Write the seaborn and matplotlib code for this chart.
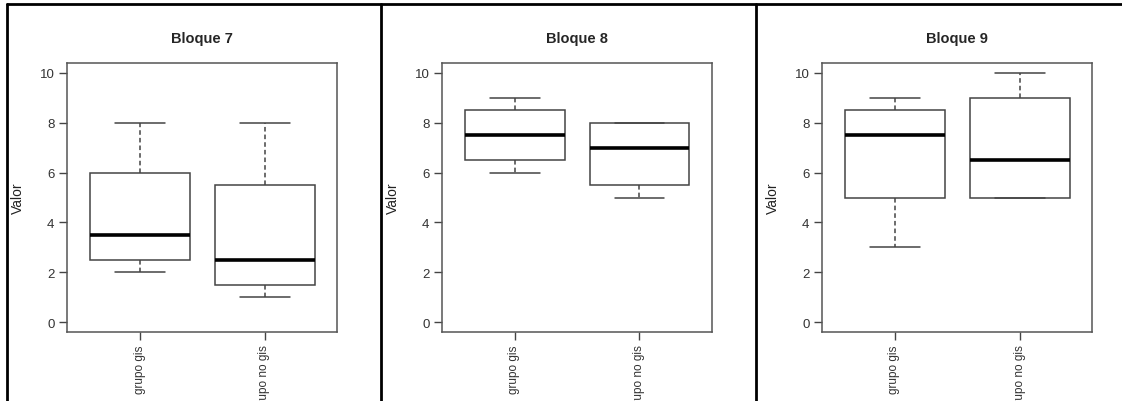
import pandas as pd
import matplotlib.pyplot as plt
from matplotlib.lines import Line2D
import seaborn as sns

# Five-number summaries (min, q1, median, q3, max)
bloques = ['Bloque 7', 'Bloque 8', 'Bloque 9']
grupos = ['grupo gis', 'grupo no gis']
gis_7 = [2, 2.5, 3.5, 6, 8]
nogis_7 = [1, 1.5, 2.5, 5.5, 8]
gis_8 = [6, 6.5, 7.5, 8.5, 9]
nogis_8 = [5, 5.5, 7, 8, 8]
gis_9 = [3, 5, 7.5, 8.5, 9]
nogis_9 = [5, 5, 6.5, 9, 10]
yticks = [0, 2, 4, 6, 8, 10]

valores = {
    'Bloque 7': (gis_7, nogis_7),
    'Bloque 8': (gis_8, nogis_8),
    'Bloque 9': (gis_9, nogis_9),
}

sns.set_style('white')
plt.rcParams['font.family'] = ['Liberation Sans', 'DejaVu Sans']

fig = plt.figure(figsize=(11.22, 4.02), dpi=100)
W, H = 1122, 402
lefts = [67, 442, 822]
edge = '#444444'

for left, bloque in zip(lefts, bloques):
    ax = fig.add_axes([left / W, (H - 333) / H, 270 / W, 269 / H])
    g, ng = valores[bloque]
    df = pd.DataFrame({'grupo': [grupos[0]] * len(g) + [grupos[1]] * len(ng),
                       'Valor': g + ng})
    sns.boxplot(data=df, x='grupo', y='Valor', ax=ax, color='white',
                linecolor=edge, linewidth=1.1, width=0.8, whis=1.5,
                fliersize=0,
                whiskerprops=dict(linestyle=(0, (3, 2)), color=edge),
                capprops=dict(color=edge),
                medianprops=dict(color='black', linewidth=2.6),
                boxprops=dict(facecolor='white', edgecolor=edge))
    ax.set_xlim(0.42 - 1, 2.58 - 1)
    ax.set_ylim(-0.4, 10.4)
    ax.set_yticks(yticks)
    ax.set_yticklabels([str(t) for t in yticks], fontsize=9.5, color='#333333')
    ax.set_xticks([0, 1])
    ax.set_xticklabels(grupos, rotation=90, fontsize=8.5, color='#333333', va='top')
    ax.tick_params(axis='both', direction='out', length=6, width=1, color=edge,
                   left=True, bottom=True, pad=3)
    ax.set_xlabel('')
    ax.set_ylabel('Valor', fontsize=10, color='#222222', va='center')
    ax.yaxis.set_label_coords(-49 / 270, 0.5)
    ax.set_title(bloque, fontsize=10.5, fontweight='bold', pad=15)
    for s in ax.spines.values():
        s.set_color('#555555')
        s.set_linewidth(1.1)
        s.set_visible(True)

# outer frame and panel separators
def fx(x):
    return x / W

def fy(y):
    return 1 - y / H

lk = dict(color='black', linewidth=2, transform=fig.transFigure)
fig.add_artist(Line2D([fx(7), 1], [fy(5), fy(5)], **lk))
for x in [7, 381, 756]:
    fig.add_artist(Line2D([fx(x), fx(x)], [fy(5), 0], **lk))

fig.savefig('out.png', dpi=100)
